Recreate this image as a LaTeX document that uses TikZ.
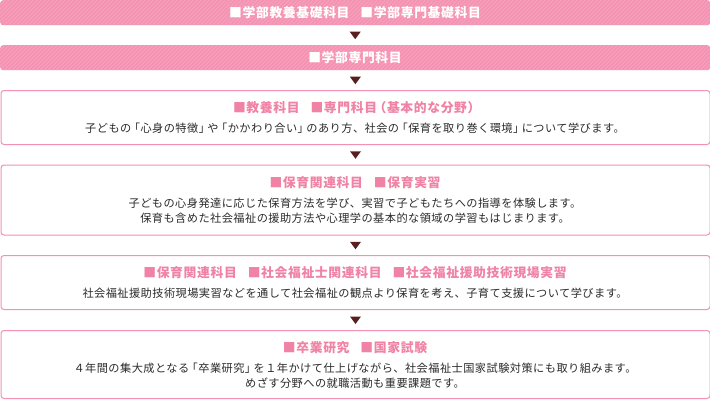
\documentclass[tikz,border=0pt]{standalone}
\usepackage{fontspec}
\setmainfont{Noto Sans CJK JP}[LetterSpace=4]
\newfontfamily\ttlfont{Noto Sans CJK JP}[LetterSpace=5]
\usetikzlibrary{calc}
\definecolor{barpink}{HTML}{F592B1}
\definecolor{stripepink}{HTML}{F7A4C0}
\definecolor{boxpink}{HTML}{F291B2}
\definecolor{titlepink}{HTML}{F082A5}
\definecolor{arrowbrown}{HTML}{5A1E1E}
\definecolor{bodygray}{HTML}{2B2B2B}
\newcommand{\gp}{\hspace{11pt}}
\newcommand{\lb}{\kern-2.5pt「}
\newcommand{\rb}{」\kern-2.5pt}
\newcommand{\lpar}{\kern-3.5pt（}
\newcommand{\rpar}{）\kern-3.5pt}
\tikzset{
  bar/.style={fill=barpink, rounded corners=3pt, inner sep=0pt, minimum width=710pt, minimum height=25pt, anchor=north west,
    path picture={\foreach \i in {-40,-36,...,740}{\draw[stripepink, line width=0.8pt] ($(path picture bounding box.south west)+(\i,0)$) -- ++(25,-25);}}},
  box/.style={draw=boxpink, line width=1pt, rounded corners=3pt, fill=white, inner sep=0pt, minimum width=709pt, anchor=north west},
  bartitle/.style={text=white, font=\ttlfont\fontsize{12.8}{14}\selectfont\bfseries, inner sep=0pt, anchor=base},
  ttl/.style={text=titlepink, font=\ttlfont\fontsize{12.8}{14}\selectfont\bfseries, inner sep=0pt, anchor=base},
  body/.style={text=bodygray, font=\fontsize{11.2}{14}\selectfont, inner sep=0pt, anchor=base},
  arr/.style={fill=arrowbrown}
}
\newcommand{\downtri}[1]{\fill[arr] ($(#1)+(-5.5,-3.5)$) -- ($(#1)+(5.5,-3.5)$) -- ($(#1)+(0,4)$) -- cycle;}
\begin{document}
\begin{tikzpicture}[x=1pt,y=-1pt]
\useasboundingbox (0,0) rectangle (710,400);
% bars
\node[bar] (b1) at (0,0) {};
\node[bar] (b2) at (0,45) {};
\node[bartitle] (t1) at (355,17.2) {■学部教養基礎科目\gp■学部専門基礎科目};
\node[bartitle] (t2) at (355,62.2) {■学部専門科目};
% boxes
\node[box, minimum height=54pt] (b3) at (0.5,90) {};
\node[box, minimum height=70pt] (b4) at (0.5,164.5) {};
\node[box, minimum height=54pt] (b5) at (0.5,255) {};
\node[box, minimum height=68pt] (b6) at (0.5,330) {};
% box 3
\node[ttl] (t3) at (355,112.7) {■教養科目\gp■専門科目\lpar 基本的な分野\rpar};
\node[body] (l3) at (355,132.3) {子どもの\lb 心身の特徴\rb や\lb かかわり合い\rb のあり方、社会の\lb 保育を取り巻く環境\rb について学びます。};
% box 4
\node[ttl] (t4) at (355,187.2) {■保育関連科目\gp■保育実習};
\node[body] (l4a) at (355,207.3) {子どもの心身発達に応じた保育方法を学び、実習で子どもたちへの指導を体験します。};
\node[body] (l4b) at (355,222.3) {保育も含めた社会福祉の援助方法や心理学の基本的な領域の学習もはじまります。};
% box 5
\node[ttl] (t5) at (355,277.7) {■保育関連科目\gp■社会福祉士関連科目\gp■社会福祉援助技術現場実習};
\node[body] (l5) at (355,297.3) {社会福祉援助技術現場実習などを通して社会福祉の観点より保育を考え、子育て支援について学びます。};
% box 6
\node[ttl] (t6) at (355,352.7) {■卒業研究\gp■国家試験};
\node[body] (l6a) at (355,372.3) {４年間の集大成となる\lb 卒業研究\rb を１年かけて仕上げながら、社会福祉士国家試験対策にも取り組みます。};
\node[body] (l6b) at (355,387.3) {めざす分野への就職活動も重要課題です。};
% arrows
\path (b1.south) -- (b2.north) coordinate[midway] (a1);
\path (b2.south) -- (b3.north) coordinate[midway] (a2);
\path (b3.south) -- (b4.north) coordinate[midway] (a3);
\path (b4.south) -- (b5.north) coordinate[midway] (a4);
\path (b5.south) -- (b6.north) coordinate[midway] (a5);
\downtri{a1}
\downtri{a2}
\downtri{a3}
\downtri{a4}
\downtri{a5}
\end{tikzpicture}
\end{document}
